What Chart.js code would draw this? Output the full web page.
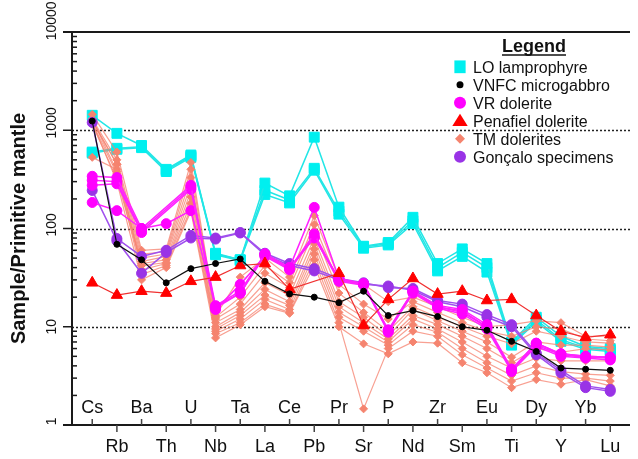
<!DOCTYPE html>
<html>
<head>
<meta charset="utf-8">
<script src="https://cdn.jsdelivr.net/npm/chart.js@4.4.1/dist/chart.umd.min.js"></script>
<style>
  html, body { margin: 0; padding: 0; background: #fff; }
</style>
</head>
<body>
<canvas id="spider" width="638" height="459"></canvas>
<script>
const elements = ['Cs','Rb','Ba','Th','U','Nb','Ta','La','Ce','Pb','Pr','Sr','P','Nd','Zr','Sm','Eu','Ti','Dy','Y','Yb','Lu'];
const decades = [1, 10, 100, 1000, 10000];
const dottedLevels = [10, 100, 1000];

// LO lamprophyre
const lo1 = [1420, 930, 700, 400, 560, 56, 48, 290, 215, 850, 165, 66, 72, 130, 44, 62, 44, 7.0, 12.5, 8.0, 6.3, 6.0];
const lo2 = [600, 655, 680, 390, 545, 55, 48, 245, 195, 410, 150, 65, 70, 120, 40, 57, 40, 6.7, 11.8, 7.4, 6.1, 5.8];
const lo3 = [585, 640, 665, 380, 530, 54, 47, 222, 182, 392, 140, 63, 68, 112, 37, 52, 36, 6.5, 11.2, 7.1, 5.9, 5.6];

// VNFC microgabbro
const vnfc = [1240, 69, 48, 28, 39, 44, 49, 29, 21.6, 20, 17.6, 23, 13, 14.6, 12.7, 10, 9.2, 7.1, 5.6, 3.8, 3.7, 3.6];

// VR dolerite
const vr1 = [340, 330, 100, null, 275, 16.4, 23, 55, 40, 164, 31, 27.5, 9.3, 23, 16.5, 15, 10.5, 3.7, 6.8, 5.3, 5.0, 4.9];
const vr2 = [310, 300, 95, null, 262, 15.5, 22, 53, 39, 88, 30, 27, 9.0, 22.5, 16, 14.5, 10, 3.6, 6.5, 5.2, 4.9, 4.8];
const vr3 = [275, 285, 91, null, 250, 15, 27, 52, 38, 82, 29, 26.5, 8.8, 22, 15.5, 13.5, 9.5, 3.5, 6.3, 5.0, 4.8, 4.6];
const vr4 = [184, 152, 100, 112, 152, 16, 22, 55, 40, 80, 31, 27, 9.2, 23, 16, 14, 10, 3.7, 6.8, 5.3, 5.0, 4.9];

// Penafiel dolerite
const penafiel = [28, 21, 23, 22, 29, 32, 42, 44, 24, null, 35, 10.3, 19, 31, 21.5, 23, 18.5, 19, 13, 9, 7.8, 8.3];

// TM dolerites
const tm1 = [1450, 600, 60, 62, 470, 13, 32, 50, 32, 135, 31, 27, 18, 20, 16, 12.5, 10, 10.5, 11.5, 11, 8, 8];
const tm2 = [1300, 500, 55, 58, 400, 12.5, 20, 42, 28, 110, 27, 17, 12, 18, 14, 11, 9, 8, 10, 9.5, 7.5, 7.2];
const tm3 = [1250, 450, 50, 55, 330, 12, 17, 35, 25, 95, 22, 14, 9, 16, 12.5, 10, 8, 6.7, 9, 8, 7, 6.8];
const tm4 = [530, 400, 46, 52, 280, 11, 15, 28, 21, 80, 18, 12.5, 8, 15, 11.5, 9, 7, 4.9, 7, 6.5, 6.5, 6.2];
const tm5 = [1200, 360, 44, 48, 240, 10, 14, 24, 18, 70, 16, 11, 7.5, 13, 10.5, 8, 6, 4.3, 6, 5.5, 6, 5.8];
const tm6 = [1150, 320, 42, 45, 210, 9.5, 13, 21, 16.5, 62, 14, 10, 7, 12, 9.5, 7, 5, 3.8, 4.8, 4.5, 4.5, 4.5];
const tm7 = [1250, 450, 38, 44, 180, 9, 12, 19, 15, 55, 12.5, 9, 6.5, 10.5, 8.8, 6, 4.3, 3.2, 4, 3.5, 3.3, 3.2];
const tm8 = [1300, 380, 34, 42, 160, 8.5, 11, 17, 14, 48, 11, 1.46, 6, 9, 8, 5.2, 3.8, 2.8, 3.4, 3, 3, 2.8];
const tm9 = [1200, 300, 30, 40, 150, 7.7, 10.5, 16, 13.7, 42, 10, 6.7, 5.3, 7, 6.8, 4.3, 3.4, 2.4, 2.9, 2.6, 2.9, 2.5];

// Gonçalo specimens
const gon1 = [1200, 79, 52, 60, 85, 80, 91, 56, 44, 39, 31, 28, 25, 24.5, 18.5, 17, 13.3, 10.5, 5.4, 3.6, 2.5, 2.3];
const gon2 = [244, 75, 35, 57, 80, 78, 90, 54, 42, 37, 30, 27, 26, 23.5, 18, 16, 12.5, 10, 5.2, 3.4, 2.4, 2.2];

const groups = [
  { name: 'LO lamprophyre', samples: [lo1, lo2, lo3], color: '#00EFEF', line: '#22E6E6', style: 'rect', radius: 7, width: 1.5, order: 6 },
  { name: 'VNFC microgabbro', samples: [vnfc], color: '#000000', line: '#111111', style: 'circle', radius: 3, width: 1.2, order: 1 },
  { name: 'VR dolerite', samples: [vr1, vr2, vr3, vr4], color: '#FF00FF', line: '#FF22FF', style: 'circle', radius: 5, width: 1.5, order: 3 },
  { name: 'Penafiel dolerite', samples: [penafiel], color: '#FF0000', line: '#F03030', style: 'triangle', radius: 6.5, width: 1.2, order: 2 },
  { name: 'TM dolerites', samples: [tm1, tm2, tm3, tm4, tm5, tm6, tm7, tm8, tm9], color: '#F5846F', line: 'rgba(245,128,110,0.75)', style: 'rectRot', radius: 4, width: 1.2, order: 5 },
  { name: 'Gonçalo specimens', samples: [gon1, gon2], color: '#9933E6', line: '#A050EE', style: 'circle', radius: 5, width: 1.5, order: 4 }
];

const datasets = [];
groups.forEach(g => {
  g.samples.forEach((vals, k) => {
    datasets.push({
      label: g.name + ' ' + (k + 1),
      data: vals.map((v, i) => ({ x: i, y: v })),
      borderColor: g.line,
      borderWidth: g.width,
      backgroundColor: g.color,
      pointBackgroundColor: g.color,
      pointBorderColor: g.color,
      pointBorderWidth: 1,
      pointStyle: g.style,
      pointRadius: g.radius,
      spanGaps: true,
      tension: 0,
      order: g.order
    });
  });
});

const FONT = '"Liberation Sans", Arial, Helvetica, sans-serif';

function marker(ctx, style, x, y, r, color) {
  ctx.fillStyle = color;
  ctx.beginPath();
  if (style === 'rect') {
    ctx.rect(x - r * 0.75, y - r * 0.85, r * 1.5, r * 1.7);
  } else if (style === 'triangle') {
    ctx.moveTo(x, y - r);
    ctx.lineTo(x + r * 1.1, y + r * 0.75);
    ctx.lineTo(x - r * 1.1, y + r * 0.75);
    ctx.closePath();
  } else if (style === 'rectRot') {
    ctx.moveTo(x - r, y); ctx.lineTo(x, y - r); ctx.lineTo(x + r, y); ctx.lineTo(x, y + r);
    ctx.closePath();
  } else {
    ctx.arc(x, y, r, 0, Math.PI * 2);
  }
  ctx.fill();
}

const decorations = {
  id: 'decorations',
  beforeDatasetsDraw(chart) {
    const { ctx, chartArea: a, scales: { y } } = chart;
    ctx.save();
    ctx.strokeStyle = '#222';
    ctx.lineWidth = 1.5;
    ctx.setLineDash([2, 2]);
    dottedLevels.forEach(v => {
      const py = Math.round(y.getPixelForValue(v)) + 0.5;
      ctx.beginPath(); ctx.moveTo(a.left, py); ctx.lineTo(a.right, py); ctx.stroke();
    });
    ctx.restore();
  },
  afterDraw(chart) {
    const { ctx, chartArea: a, scales: { x, y } } = chart;
    ctx.save();
    ctx.strokeStyle = '#1a1a1a';
    ctx.lineWidth = 2;
    // frame: left axis, bottom axis, top line
    ctx.beginPath();
    ctx.moveTo(a.left, a.top); ctx.lineTo(a.left, a.bottom);
    ctx.moveTo(a.left - 9, a.bottom); ctx.lineTo(a.right, a.bottom);
    ctx.moveTo(a.left - 9, a.top); ctx.lineTo(a.right, a.top);
    ctx.stroke();

    // y ticks: major outward, minor inward
    ctx.lineWidth = 1.5;
    decades.forEach((d, k) => {
      const py = y.getPixelForValue(d);
      ctx.beginPath(); ctx.moveTo(a.left - 9, py); ctx.lineTo(a.left, py); ctx.stroke();
      if (k < decades.length - 1) {
        for (let m = 2; m <= 9; m++) {
          const pm = y.getPixelForValue(d * m);
          ctx.beginPath(); ctx.moveTo(a.left, pm); ctx.lineTo(a.left + 5, pm); ctx.stroke();
        }
      }
    });

    // x ticks alternate inside / outside
    ctx.strokeStyle = '#444';
    elements.forEach((el, i) => {
      const px = x.getPixelForValue(i);
      ctx.beginPath();
      if (i % 2 === 0) { ctx.moveTo(px, a.bottom - 6); ctx.lineTo(px, a.bottom); }
      else { ctx.moveTo(px, a.bottom); ctx.lineTo(px, a.bottom + 7); }
      ctx.stroke();
    });

    // x labels
    ctx.fillStyle = '#111';
    ctx.font = '18px ' + FONT;
    ctx.textAlign = 'center';
    ctx.textBaseline = 'alphabetic';
    elements.forEach((el, i) => {
      const px = x.getPixelForValue(i);
      ctx.fillText(el, px, i % 2 === 0 ? a.bottom - 12 : a.bottom + 27);
    });

    // y labels, rotated
    ctx.font = '14px ' + FONT;
    decades.forEach(d => {
      const txt = String(d);
      const py = y.getPixelForValue(d) - Math.abs(txt.length - 2) * 3.7;
      ctx.save();
      ctx.translate(a.left - 16.5, py);
      ctx.rotate(-Math.PI / 2);
      ctx.fillText(txt, 0, 0);
      ctx.restore();
    });

    // y title
    ctx.save();
    ctx.font = 'bold 20px ' + FONT;
    ctx.translate(24.5, (a.top + a.bottom) / 2);
    ctx.rotate(-Math.PI / 2);
    ctx.fillText('Sample/Primitive mantle', 0, 0);
    ctx.restore();

    // legend
    ctx.font = 'bold 18px ' + FONT;
    ctx.textAlign = 'center';
    ctx.fillText('Legend', 534, 51.5);
    const tw = ctx.measureText('Legend').width;
    ctx.strokeStyle = '#111';
    ctx.lineWidth = 1.5;
    ctx.beginPath(); ctx.moveTo(534 - tw / 2, 55); ctx.lineTo(534 + tw / 2, 55); ctx.stroke();

    ctx.font = '16px ' + FONT;
    ctx.textAlign = 'left';
    const legendSizes = { rect: 7.5, triangle: 7, rectRot: 5, circle: 6 };
    groups.forEach((g, k) => {
      const cy = 66.8 + k * 18;
      const r = g.radius <= 3 ? 3.5 : legendSizes[g.style];
      marker(ctx, g.style, 460, cy, r, g.color);
      ctx.fillStyle = '#111';
      ctx.fillText(g.name, 473, cy + 6);
    });
    ctx.restore();
  }
};

const spider = document.getElementById('spider');

new Chart(spider, {
  type: 'line',
  data: { datasets: datasets },
  options: {
    responsive: false,
    animation: false,
    devicePixelRatio: 1,
    layout: { padding: { left: 72, top: 32, right: 0, bottom: 34 } },
    scales: {
      x: { type: 'linear', display: false, min: -0.82, max: 21.8 },
      y: { type: 'logarithmic', display: false, min: 1, max: 10000 }
    },
    plugins: {
      legend: { display: false },
      tooltip: { enabled: false }
    }
  },
  plugins: [decorations]
});
</script>
</body>
</html>
